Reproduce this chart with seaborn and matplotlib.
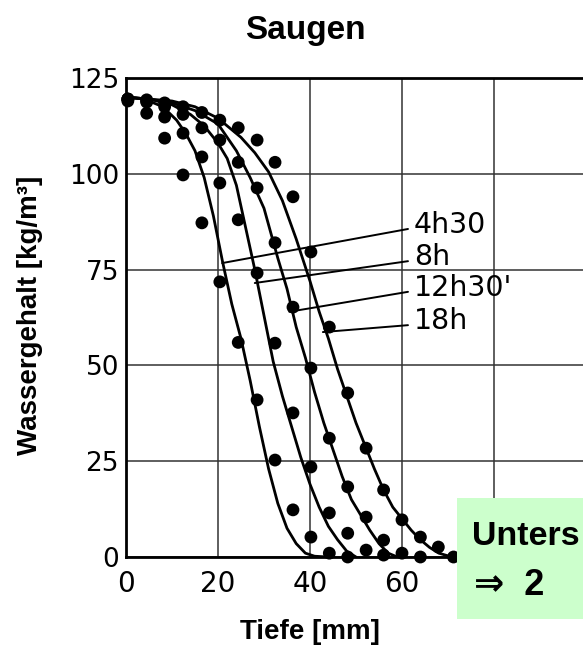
import numpy as np
import pandas as pd
import matplotlib
matplotlib.use("Agg")
import matplotlib.pyplot as plt
import seaborn as sns
from matplotlib.patches import Rectangle

sns.set_theme(style="white")
plt.rcParams['font.family'] = ['DejaVu Sans']
plt.rcParams['text.color'] = 'black'
plt.rcParams['axes.labelcolor'] = 'black'
plt.rcParams['xtick.color'] = 'black'
plt.rcParams['ytick.color'] = 'black'

# ---------------- data ----------------
series_labels = ["4h30", "8h", "12h30'", "18h"]

# fitted curves (Tiefe [mm], Wassergehalt [kg/m3])
c1_x = [0, 4, 8, 11, 13, 15, 17, 19, 21, 23, 25, 27, 29, 31, 33, 35, 37, 39, 41, 44]
c1_y = [120, 119.5, 117.5, 114, 110.5, 106, 99, 89, 77, 66, 57, 46, 34, 23, 14, 7.5, 3.5, 1, 0.2, 0]
c2_x = [0, 5, 10, 14, 17, 20, 22, 24, 26, 28, 30, 32, 34, 36, 38, 40, 42, 44, 46, 48, 50]
c2_y = [120, 119.5, 118, 115.5, 112.5, 108, 104, 97, 86, 75, 63, 51, 42, 34, 26, 19, 13, 8, 4.5, 1.5, 0]
c3_x = [0, 5, 10, 15, 20, 24, 27, 30, 33, 35, 37, 39, 41, 43, 45, 47, 49, 51, 53, 55, 57, 59]
c3_y = [120, 119.5, 118.5, 116.5, 113, 106, 99, 91, 78, 70, 60, 52, 43, 35, 28, 21, 15, 11, 7, 3.5, 1, 0]
c4_x = [0, 5, 10, 15, 20, 25, 28, 31, 34, 37, 40, 42, 44, 46, 48, 50, 52, 54, 56, 58, 60, 62, 64, 66, 68, 70, 72]
c4_y = [120, 119.5, 119, 117.5, 114.5, 109.5, 105.5, 100.5, 93, 83, 72, 64, 57, 49, 42, 35, 29, 23, 17.5, 13, 10, 7, 4.5, 2.5, 1, 0.3, 0]

# measured points
d1_x = [0.4, 4.5, 8.4, 12.4, 16.5, 20.4, 24.4, 28.5, 32.4, 36.3, 40.2, 44.2, 48.2]
d1_y = [119, 115.8, 109.3, 99.7, 87.2, 71.8, 56, 41, 25.3, 12.3, 5.2, 1, 0]
d2_x = [0.4, 4.5, 8.4, 12.4, 16.5, 20.4, 24.4, 28.5, 32.4, 36.3, 40.2, 44.2, 48.2, 52.2, 56]
d2_y = [119.5, 118.7, 114.8, 110.6, 104.4, 97.6, 88, 74.1, 55.8, 37.6, 23.5, 11.5, 6.2, 1.8, 0.5]
d3_x = [0.4, 4.5, 8.4, 12.4, 16.5, 20.4, 24.4, 28.5, 32.4, 36.3, 40.2, 44.2, 48.2, 52.2, 56, 60, 64]
d3_y = [119.5, 119, 117.5, 115.5, 112, 108.8, 103, 96.3, 82, 65.2, 49.3, 31, 18.3, 10.4, 4.4, 1, 0]
d4_x = [0.4, 4.5, 8.4, 12.4, 16.5, 20.4, 24.4, 28.5, 32.4, 36.3, 40.2, 44.2, 48.2, 52.2, 56, 60, 64, 67.9, 71.2]
d4_y = [119.5, 119.3, 118.5, 117.5, 116, 114, 112, 108.8, 103, 94, 79.6, 60, 42.8, 28.4, 17.5, 9.7, 5.2, 2.6, 0]

x_ticks = [0, 20, 40, 60, 80]
x_ticklabels = ["0", "20", "40", "60", ""]
y_ticks = [0, 25, 50, 75, 100, 125]

# ---------------- build tables ----------------
curves = pd.concat([
    pd.DataFrame({"x": cx, "y": cy, "series": lab})
    for cx, cy, lab in zip([c1_x, c2_x, c3_x, c4_x], [c1_y, c2_y, c3_y, c4_y], series_labels)
], ignore_index=True)
points = pd.concat([
    pd.DataFrame({"x": dx, "y": dy, "series": lab})
    for dx, dy, lab in zip([d1_x, d2_x, d3_x, d4_x], [d1_y, d2_y, d3_y, d4_y], series_labels)
], ignore_index=True)

# ---------------- figure ----------------
W, H = 583, 646
fig = plt.figure(figsize=(W / 100, H / 100), dpi=100)
fig.patch.set_facecolor("white")
ax = fig.add_axes([126 / W, 89 / H, 460 / W, 479 / H])
ax.set_facecolor("white")

ax.set_xlim(0, 100)
ax.set_ylim(0, 125)
ax.set_xticks(x_ticks)
ax.set_xticklabels(x_ticklabels)
ax.set_yticks(y_ticks)
ax.grid(True, color="#333333", linewidth=1.1)
ax.set_axisbelow(True)

black = {lab: "black" for lab in series_labels}
sns.lineplot(data=curves, x="x", y="y", hue="series", palette=black, sort=False,
             estimator=None, linewidth=2.0, legend=False, ax=ax, zorder=3)
sns.scatterplot(data=points, x="x", y="y", hue="series", palette=black, s=85,
                edgecolor="none", legend=False, ax=ax, zorder=4, clip_on=False)

# leader lines + labels
ann_start_x = [20.9, 28.0, 35.5, 42.8]
ann_start_y = [76.7, 71.5, 64.0, 58.7]
ann_end_x = 61.3
ann_end_y = [85.6, 77.2, 69.2, 60.5]
lab_x = 62.6
lab_y = [86.6, 78.3, 70.2, 61.6]
for lab, sx, sy, ey, ly in zip(series_labels, ann_start_x, ann_start_y, ann_end_y, lab_y):
    ax.plot([sx, ann_end_x], [sy, ey], color="black", linewidth=1.4, zorder=3)
    ax.text(lab_x, ly, lab, fontsize=20.5, color="black", va="center", ha="left",
            family="DejaVu Sans", zorder=5)

for side in ["left", "bottom", "top", "right"]:
    ax.spines[side].set_color("black")
    ax.spines[side].set_linewidth(2.0)
ax.tick_params(axis="both", length=0, colors="black")
ax.tick_params(axis="x", pad=9, labelsize=20)
ax.tick_params(axis="y", pad=5, labelsize=19)
ax.set_xlabel("")
ax.set_ylabel("")

# titles / axis labels
fig.text(305 / W, 1 - 30 / H, "Saugen", ha="center", va="center", fontsize=24,
         fontweight="bold", family="Liberation Sans", color="black")
fig.text(30 / W, 1 - 315 / H, "Wassergehalt [kg/m³]", ha="center", va="center",
         rotation=90, fontsize=20, fontweight="bold", family="Liberation Sans", color="black")
fig.text(310 / W, 1 - 632 / H, "Tiefe [mm]", ha="center", va="center", fontsize=20,
         fontweight="bold", family="Liberation Sans", color="black")

# green overlay box
fig.add_artist(Rectangle((457 / W, 1 - 619 / H), (W - 457) / W + 0.01, 121 / H,
                         transform=fig.transFigure, facecolor="#ccffcc",
                         edgecolor="none", zorder=10))
fig.text(472 / W, 1 - 545 / H, "Unters", ha="left", va="baseline", fontsize=24.5,
         fontweight="bold", family=["Liberation Sans", "DejaVu Sans"], color="black", zorder=11)
fig.text(474 / W, 1 - 595 / H, "⇒  2", ha="left", va="baseline", fontsize=26,
         fontweight="bold", family=["Liberation Sans", "DejaVu Sans"], color="black", zorder=11)

fig.savefig("out.png", dpi=100, facecolor="white")
